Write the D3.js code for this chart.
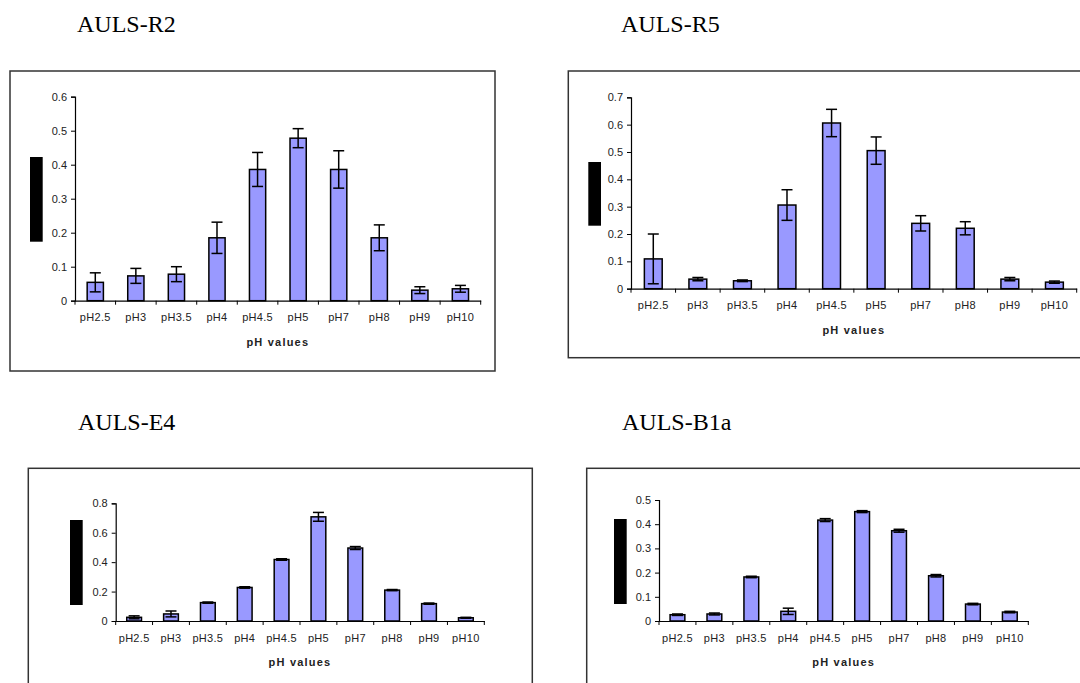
<!DOCTYPE html>
<html>
<head>
<meta charset="utf-8">
<script src="https://cdn.jsdelivr.net/npm/d3@7"></script>
<style>
  body { margin: 0; background: #fff; }
  svg { display: block; }
  .title { font-family: "Liberation Serif", "Times New Roman", serif; font-size: 24px; fill: #000; }
  .tick text { font-family: "Liberation Sans", Arial, sans-serif; font-size: 11px; fill: #222; }
  .xlabel { font-family: "Liberation Sans", Arial, sans-serif; font-size: 11px; font-weight: bold; letter-spacing: 1.2px; fill: #222; }
</style>
</head>
<body>
<script>
const categories = ["pH2.5", "pH3", "pH3.5", "pH4", "pH4.5", "pH5", "pH7", "pH8", "pH9", "pH10"];

const r2Values = [0.054, 0.073, 0.078, 0.185, 0.386, 0.478, 0.386, 0.185, 0.031, 0.035];
const r2Errors = [0.028, 0.022, 0.022, 0.046, 0.050, 0.028, 0.055, 0.038, 0.010, 0.010];
const r2Ticks = [0, 0.1, 0.2, 0.3, 0.4, 0.5, 0.6];

const r5Values = [0.109, 0.035, 0.029, 0.306, 0.606, 0.505, 0.239, 0.221, 0.035, 0.024];
const r5Errors = [0.091, 0.006, 0.003, 0.056, 0.050, 0.050, 0.028, 0.024, 0.006, 0.004];
const r5Ticks = [0, 0.1, 0.2, 0.3, 0.4, 0.5, 0.6, 0.7];

const e4Values = [0.025, 0.048, 0.125, 0.228, 0.418, 0.708, 0.496, 0.210, 0.118, 0.022];
const e4Errors = [0.010, 0.020, 0.004, 0.005, 0.005, 0.030, 0.010, 0.004, 0.004, 0.003];
const e4Ticks = [0, 0.2, 0.4, 0.6, 0.8];

const b1aValues = [0.026, 0.029, 0.182, 0.040, 0.417, 0.452, 0.373, 0.187, 0.070, 0.037];
const b1aErrors = [0.003, 0.004, 0.003, 0.013, 0.006, 0.004, 0.006, 0.005, 0.003, 0.003];
const b1aTicks = [0, 0.1, 0.2, 0.3, 0.4, 0.5];

const xTitle = "pH values";

const svg = d3.select("body").append("svg")
  .attr("width", 1080)
  .attr("height", 683);

// one panel per strain
function drawPanel(p) {
  const g = svg.append("g");

  g.append("text")
    .attr("class", "title")
    .attr("x", p.titleX)
    .attr("y", p.titleY)
    .text(p.title);

  g.append("rect")
    .attr("x", p.box[0]).attr("y", p.box[1])
    .attr("width", p.box[2] - p.box[0]).attr("height", p.box[3] - p.box[1])
    .attr("fill", "none")
    .attr("stroke", "#333")
    .attr("stroke-width", 1.5);

  // hidden y label block
  g.append("rect")
    .attr("x", p.block[0]).attr("y", p.block[1])
    .attr("width", 12.7).attr("height", p.block[2])
    .attr("fill", "#000");

  const x = d3.scaleBand()
    .domain(categories)
    .range([p.x0, p.x1])
    .paddingInner(0.6)
    .paddingOuter(0.3);

  const y = d3.scaleLinear()
    .domain([0, d3.max(p.ticks)])
    .range([p.y0, p.yTop]);

  const data = categories.map((c, i) => ({ cat: c, value: p.values[i], err: p.errors[i] }));

  // y axis
  const yAxis = g.append("g")
    .attr("transform", "translate(" + p.x0 + ",0)")
    .call(d3.axisLeft(y).tickValues(p.ticks).tickSize(4).tickPadding(4)
      .tickFormat(d => d === 0 ? "0" : d.toFixed(1)));
  yAxis.select(".domain").attr("stroke", "#000").attr("stroke-width", 1.2);
  yAxis.selectAll(".tick line").attr("stroke", "#000");

  // x axis: labels only, ticks drawn at band borders
  const xAxis = g.append("g")
    .attr("transform", "translate(0," + p.y0 + ")")
    .call(d3.axisBottom(x).tickSize(0).tickPadding(13));
  xAxis.select(".domain").attr("stroke", "#000").attr("stroke-width", 1.2);
  xAxis.selectAll(".tick text").style("letter-spacing", "0.3px");

  const step = x.step();
  const borders = categories.map(c => x(c) + x.bandwidth() / 2 - step / 2);
  borders.push(p.x1);
  g.selectAll(".xborder")
    .data(borders)
    .enter().append("line")
    .attr("x1", d => d).attr("x2", d => d)
    .attr("y1", p.y0).attr("y2", p.y0 + 4)
    .attr("stroke", "#000");

  g.selectAll(".bar")
    .data(data)
    .enter().append("rect")
    .attr("x", d => x(d.cat))
    .attr("y", d => y(d.value))
    .attr("width", x.bandwidth())
    .attr("height", d => p.y0 - y(d.value))
    .attr("fill", "#9999ff")
    .attr("stroke", "#000")
    .attr("stroke-width", 1.5);

  const cap = 5.5;
  const err = g.selectAll(".err")
    .data(data)
    .enter().append("g")
    .attr("stroke", "#000")
    .attr("stroke-width", 1.5);
  err.append("line")
    .attr("x1", d => x(d.cat) + x.bandwidth() / 2).attr("x2", d => x(d.cat) + x.bandwidth() / 2)
    .attr("y1", d => y(d.value - d.err)).attr("y2", d => y(d.value + d.err));
  err.append("line")
    .attr("x1", d => x(d.cat) + x.bandwidth() / 2 - cap).attr("x2", d => x(d.cat) + x.bandwidth() / 2 + cap)
    .attr("y1", d => y(d.value + d.err)).attr("y2", d => y(d.value + d.err));
  err.append("line")
    .attr("x1", d => x(d.cat) + x.bandwidth() / 2 - cap).attr("x2", d => x(d.cat) + x.bandwidth() / 2 + cap)
    .attr("y1", d => y(d.value - d.err)).attr("y2", d => y(d.value - d.err));

  g.append("text")
    .attr("class", "xlabel")
    .attr("x", (p.x0 + p.x1) / 2)
    .attr("y", p.y0 + 45)
    .attr("text-anchor", "middle")
    .text(xTitle);
}

drawPanel({ title: "AULS-R2", titleX: 77, titleY: 32, box: [10, 71, 495, 371],
  x0: 75, x1: 480.7, y0: 300.7, yTop: 96.7, block: [30, 157, 84.7],
  values: r2Values, errors: r2Errors, ticks: r2Ticks });

drawPanel({ title: "AULS-R5", titleX: 621, titleY: 32, box: [568.3, 71, 1095, 357.7],
  x0: 631, x1: 1076.7, y0: 288.7, yTop: 97.3, block: [588.3, 162, 63.7],
  values: r5Values, errors: r5Errors, ticks: r5Ticks });

drawPanel({ title: "AULS-E4", titleX: 78, titleY: 430, box: [28.3, 468.3, 532.3, 700],
  x0: 115.7, x1: 484.3, y0: 621, yTop: 503.3, block: [70, 520, 85],
  values: e4Values, errors: e4Errors, ticks: e4Ticks });

drawPanel({ title: "AULS-B1a", titleX: 622, titleY: 430, box: [586.7, 468.3, 1095, 700],
  x0: 659, x1: 1028.3, y0: 621, yTop: 500, block: [614, 519, 85],
  values: b1aValues, errors: b1aErrors, ticks: b1aTicks });
</script>
</body>
</html>
